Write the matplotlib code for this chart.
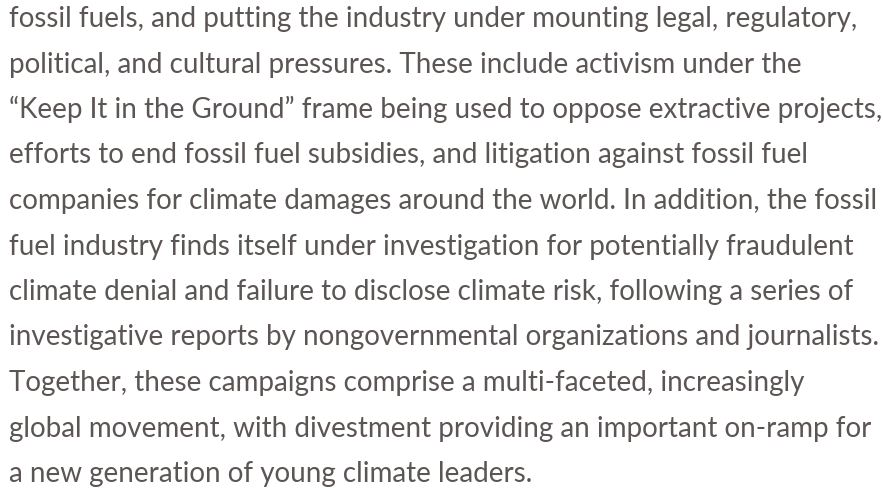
import matplotlib
matplotlib.use("Agg")
import matplotlib.pyplot as plt

lines = [
    "fossil fuels, and putting the industry under mounting legal, regulatory,",
    "political, and cultural pressures. These include activism under the",
    "\u201cKeep It in the Ground\u201d frame being used to oppose extractive projects,",
    "efforts to end fossil fuel subsidies, and litigation against fossil fuel",
    "companies for climate damages around the world. In addition, the fossil",
    "fuel industry finds itself under investigation for potentially fraudulent",
    "climate denial and failure to disclose climate risk, following a series of",
    "investigative reports by nongovernmental organizations and journalists.",
    "Together, these campaigns comprise a multi-faceted, increasingly",
    "global movement, with divestment providing an important on-ramp for",
    "a new generation of young climate leaders.",
]
lines = lines[:]
W, H = 883, 488
fig = plt.figure(figsize=(W / 100, H / 100), dpi=100)
fig.patch.set_facecolor("white")

color = "#5b5553"
family = "Lato"
left_px = 9
first_base = 27
last_base = 482
step = (last_base - first_base) / (len(lines) - 1) if len(lines) > 1 else 0

# fit font size so the widest line spans the measured width
renderer = fig.canvas.get_renderer()
probe = fig.text(0, 0, lines[2], fontsize=10, family=family)
w10 = probe.get_window_extent(renderer).width
probe.remove()
fs = 10 * (882 - left_px) / w10

for i, s in enumerate(lines):
    y = first_base + i * step
    fig.text(left_px / W, 1 - y / H, s, fontsize=fs, family=family,
             color=color, ha="left", va="baseline")

fig.savefig("out.png", dpi=100)
